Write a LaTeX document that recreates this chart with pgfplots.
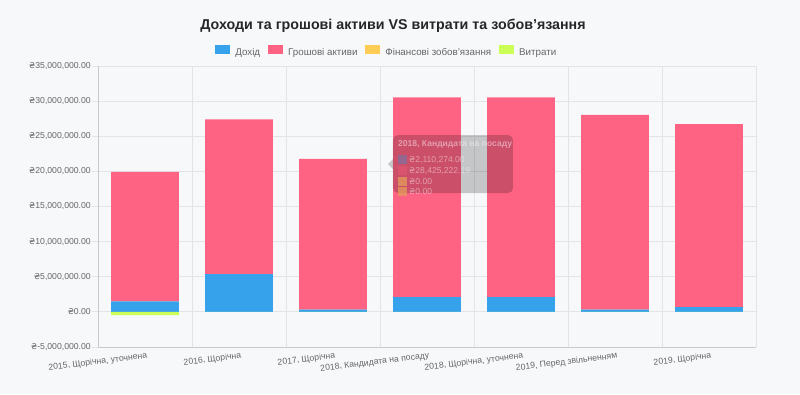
\documentclass[border=0pt]{standalone}
\usepackage{fontspec}
\setmainfont{Liberation Sans}
\newfontfamily\djv{DejaVu Sans}
\usepackage{pgfplots}
\pgfplotsset{compat=1.18}
\definecolor{bg}{RGB}{247,248,250}
\definecolor{cblue}{HTML}{36A2EB}
\definecolor{cpink}{HTML}{FF6384}
\definecolor{corange}{HTML}{FFCD56}
\definecolor{cgreen}{HTML}{CCFF55}
\definecolor{gridc}{RGB}{226,228,231}
\definecolor{axc}{RGB}{200,202,205}
\definecolor{txt}{RGB}{102,102,102}
\newcommand{\hr}{{\djv\fontsize{8}{10}\selectfont ₴}}
\newcommand{\tf}{\fontsize{8.7}{10}\selectfont}
\newcommand{\lf}{\fontsize{9.8}{12}\selectfont}
\begin{document}
\begin{tikzpicture}[x=1bp,y=1bp]
\fill[bg] (0,0) rectangle (800,394);
\useasboundingbox (0,0) rectangle (800,394);
\node[font=\bfseries\fontsize{14.3}{17}\selectfont, text=black!85] at (393,368) {Доходи та грошові активи VS витрати та зобов'язання};
\begin{axis}[
  at={(98bp,47bp)}, anchor=south west,
  scale only axis, width=658bp, height=281bp,
  ybar stacked, bar width=0.72,
  xmin=-0.5, xmax=6.5, ymin=-5000000, ymax=35000000,
  xtick={0,1,2,3,4,5,6},
  xticklabels={{2015, Щорічна, уточнена},{2016, Щорічна},{2017, Щорічна},{2018, Кандидата на посаду},{2018, Щорічна, уточнена},{2019, Перед звільненням},{2019, Щорічна}},
  minor xtick={-0.5,0.5,1.5,2.5,3.5,4.5,5.5,6.5},
  ytick={-5000000,0,5000000,10000000,15000000,20000000,25000000,30000000,35000000},
  yticklabels={{\hr-5,000,000.00},{\hr0.00},{\hr5,000,000.00},{\hr10,000,000.00},{\hr15,000,000.00},{\hr20,000,000.00},{\hr25,000,000.00},{\hr30,000,000.00},{\hr35,000,000.00}},
  scaled y ticks=false,
  ymajorgrids, xminorgrids,
  major grid style={draw=gridc, line width=0.8bp},
  minor grid style={draw=gridc, line width=0.8bp},
  axis lines=left, axis line style={-, draw=axc, line width=0.8bp},
  tick align=outside, major tick length=6bp, minor tick length=6bp,
  xtick style={draw=none}, ytick style={draw=gridc, line width=0.8bp},
  yticklabel style={font=\tf, text=txt, inner sep=1bp},
  xticklabel style={font=\tf, text=txt, rotate=7, anchor=north east, inner sep=1bp, yshift=2bp, xshift=3bp},
  legend style={at={(0.4374,1.053)}, anchor=center, legend columns=-1, draw=none, fill=none, font=\lf, text=txt,
    nodes={inner sep=0pt},
    /tikz/every odd column/.append style={column sep=5bp},
    /tikz/every even column/.append style={column sep=8bp}},
  legend image code/.code={\fill[#1] (0bp,-1bp) rectangle (15bp,8bp);},
]
\addlegendimage{fill=cblue, draw=none}\addlegendentry{Дохід}
\addlegendimage{fill=cpink, draw=none}\addlegendentry{Грошові активи}
\addlegendimage{fill=corange, draw=none}\addlegendentry{Фінансові зобов'язання}
\addlegendimage{fill=cgreen, draw=none}\addlegendentry{Витрати}
\addplot[fill=cblue, draw=none, forget plot] coordinates {(0,1480000) (1,5390000) (2,330000) (3,2110274) (4,2110274) (5,330000) (6,670000)};
\addplot[fill=cpink, draw=none, forget plot] coordinates {(0,18460000) (1,22000000) (2,21440000) (3,28425222.19) (4,28425222.19) (5,27730000) (6,26040000)};
\addplot[fill=corange, draw=none, forget plot] coordinates {(0,0) (1,0) (2,0) (3,0) (4,0) (5,0) (6,0)};
\end{axis}
\begin{axis}[
  at={(98bp,47bp)}, anchor=south west,
  scale only axis, width=658bp, height=281bp,
  ybar, bar width=0.72,
  xmin=-0.5, xmax=6.5, ymin=-5000000, ymax=35000000,
  hide axis,
]
\addplot[fill=cgreen, draw=none] coordinates {(0,-470000) (1,0) (2,0) (3,0) (4,0) (5,0) (6,0)};
\coordinate (tt) at (rel axis cs:0.4483,0.548);
\end{axis}
% tooltip overlay (hover annotation of the 2018 candidate bar)
\begin{scope}[shift={(tt)}]
\fill[black, fill opacity=0.2, rounded corners=5bp] (0,0) rectangle (120,58);
\fill[black, fill opacity=0.2] (0,34) -- (-5,29) -- (0,24) -- cycle;
\begin{scope}[every node/.style={anchor=base west, font=\fontsize{8.6}{10}\selectfont, text=white, text opacity=0.45, inner sep=0pt}]
\node[font=\bfseries\fontsize{8.6}{10}\selectfont] at (5,47) {2018, Кандидата на посаду};
\fill[cblue!55!cpink!85!black, fill opacity=0.7] (5,29.5) rectangle (14,38.5);
\node at (16,31) {\hr2,110,274.00};
\fill[cpink!88!black, fill opacity=0.7] (5,18.5) rectangle (14,27.5);
\node at (16,20) {\hr28,425,222.19};
\fill[corange!75!cpink!90!black, fill opacity=0.7] (5,7.5) rectangle (14,16.5);
\node at (16,9) {\hr0.00};
\fill[corange!75!cpink!90!black, fill opacity=0.7] (5,-2.5) rectangle (14,6.5);
\node at (16,-1) {\hr0.00};
\end{scope}
\end{scope}
\end{tikzpicture}
\end{document}
